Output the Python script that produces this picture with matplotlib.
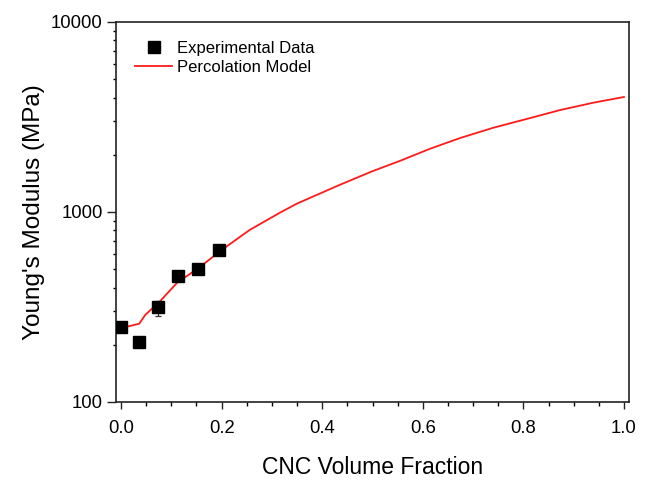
import matplotlib
matplotlib.use("Agg")
import matplotlib.pyplot as plt
from matplotlib.lines import Line2D
from matplotlib.ticker import FixedLocator, LogLocator, NullFormatter, FuncFormatter

plt.rcParams['font.family'] = ['Liberation Sans', 'DejaVu Sans']

# Experimental tensile data
exp_fraction = [0.0, 0.036, 0.074, 0.113, 0.153, 0.195]
exp_modulus = [248, 207, 316, 460, 501, 631]
exp_err_low = [8, 5, 32, 10, 12, 37]
exp_err_high = [8, 5, 24, 10, 12, 39]

# Percolation model prediction
model_fraction = [0.0, 0.036, 0.048, 0.078, 0.111, 0.157, 0.2, 0.256, 0.316,
                  0.35, 0.435, 0.5, 0.555, 0.614, 0.674, 0.74, 0.813, 0.873,
                  0.94, 1.0]
model_modulus = [245, 258, 287, 340, 423, 514, 631, 805, 992,
                 1108, 1390, 1640, 1860, 2150, 2450, 2775, 3120, 3440,
                 3765, 4030]

x_ticks = [0.0, 0.2, 0.4, 0.6, 0.8, 1.0]
y_ticks = [100, 1000, 10000]

fig = plt.figure(figsize=(6.49, 4.80), dpi=100)
ax = fig.add_axes([116 / 649, 78 / 480, 513 / 649, 380 / 480])

ax.plot(model_fraction, model_modulus, color='#ff1a1a', lw=1.3, zorder=2)
ax.errorbar(exp_fraction, exp_modulus, yerr=[exp_err_low, exp_err_high],
            fmt='s', color='black', ms=8.5, ecolor='#333333', elinewidth=0.9,
            capsize=2.5, capthick=0.9, zorder=3)

ax.set_yscale('log')
ax.set_xlim(-0.01, 1.01)
ax.set_ylim(100, 10000)

ax.xaxis.set_major_locator(FixedLocator(x_ticks))
ax.xaxis.set_minor_locator(FixedLocator([i * 0.05 for i in range(21)]))
ax.xaxis.set_major_formatter(FuncFormatter(lambda v, p: f"{v:.1f}"))
ax.yaxis.set_major_locator(FixedLocator(y_ticks))
ax.yaxis.set_minor_locator(LogLocator(base=10, subs=range(2, 10)))
ax.yaxis.set_minor_formatter(NullFormatter())
ax.yaxis.set_major_formatter(FuncFormatter(lambda v, p: f"{int(v)}"))

ax.tick_params(axis='both', which='major', direction='out', labelsize=13.3,
               width=1.0, color='#222222')
ax.tick_params(axis='y', which='major', length=6.5, pad=3)
ax.tick_params(axis='y', which='minor', direction='out', length=2.5, width=1.0)
ax.tick_params(axis='x', which='major', length=5, pad=8)
ax.tick_params(axis='x', which='minor', direction='out', length=3, width=1.0)

for sp in ax.spines.values():
    sp.set_linewidth(1.2)
    sp.set_color('#222222')

ax.set_xlabel('CNC Volume Fraction', fontsize=16.5, labelpad=14)
ax.set_ylabel("Young's Modulus (MPa)", fontsize=17.5, labelpad=4)

legend_handles = [
    Line2D([], [], ls='none', marker='s', color='black', ms=8.5),
    Line2D([], [], color='#ff1a1a', lw=1.3),
]
legend_labels = ['Experimental Data', 'Percolation Model']
ax.legend(legend_handles, legend_labels, loc='upper left',
          bbox_to_anchor=(0.015, 0.98), frameon=False, fontsize=12,
          handlelength=2.2, handletextpad=0.3, labelspacing=0.2,
          borderaxespad=0.3)

fig.savefig('out.png', dpi=100)
